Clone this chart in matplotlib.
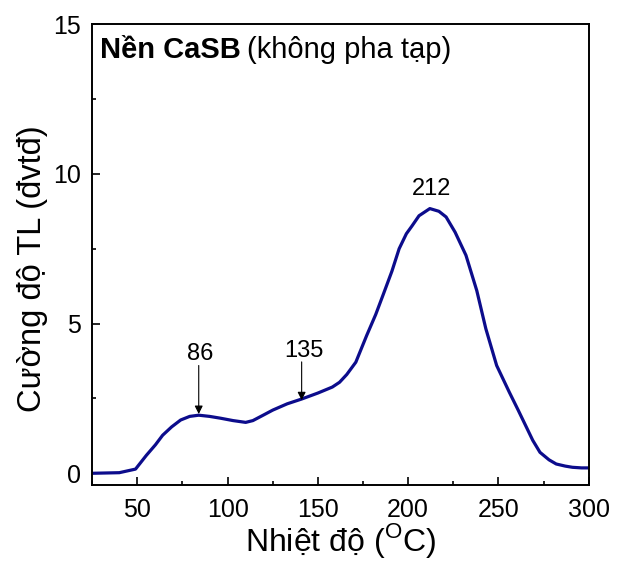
import matplotlib
import matplotlib.pyplot as plt
from matplotlib.ticker import MultipleLocator

matplotlib.use("Agg")

plt.rcParams["font.family"] = ["Liberation Sans", "DejaVu Sans"]
plt.rcParams["mathtext.fontset"] = "custom"
plt.rcParams["mathtext.rm"] = "Liberation Sans"

# Duong TL cua nen CaSB (khong pha tap)
temp = [25, 40, 49, 55, 60, 64, 69, 74, 79, 84, 90, 96, 103, 110, 114, 120, 125,
        133, 141, 150, 158, 162, 166, 171, 177, 182, 186, 191, 195, 199, 202,
        206, 212, 217, 221, 226, 232, 238, 243, 249, 256, 261, 265, 269, 273,
        278, 282, 287, 291, 296, 300]
intensity = [0.0, 0.02, 0.14, 0.6, 0.95, 1.27, 1.55, 1.78, 1.9, 1.94, 1.9, 1.84,
             1.76, 1.7, 1.76, 1.95, 2.11, 2.32, 2.48, 2.68, 2.88, 3.04, 3.3,
             3.71, 4.6, 5.3, 5.94, 6.75, 7.5, 8.0, 8.25, 8.6, 8.84, 8.75,
             8.56, 8.05, 7.28, 6.1, 4.83, 3.6, 2.71, 2.1, 1.6, 1.1, 0.7, 0.45,
             0.31, 0.24, 0.2, 0.18, 0.18]

peak_labels = ["86", "135", "212"]
label_x = [84.7, 142.3, 212.8]
label_y = [3.77, 3.88, 9.3]
arrow_x = [84, 141]
arrow_top = [3.6, 3.72]
arrow_tip = [1.98, 2.44]

fig = plt.figure(figsize=(6.23, 5.61), dpi=100)
ax = fig.add_axes([0.148, 0.135, 0.797, 0.822])

ax.plot(temp, intensity, color="#0c0c8c", lw=2.3)

# Mui ten danh dau cac dinh
for xa, yt, yb in zip(arrow_x, arrow_top, arrow_tip):
    ax.annotate("", xy=(xa, yb), xytext=(xa, yt),
                arrowprops=dict(arrowstyle="-|>", color="black", lw=0.8,
                                mutation_scale=12, shrinkA=0, shrinkB=0))
for lab, xl, yl in zip(peak_labels, label_x, label_y):
    ax.text(xl, yl, lab, ha="center", va="baseline", fontsize=17)

t1 = ax.text(29.4, 13.88, "Nền CaSB", fontsize=21, fontweight="bold",
             ha="left", va="baseline")
ax.annotate("(không pha tạp)", xy=(1, 0), xycoords=t1, xytext=(4, 0),
            textcoords="offset points", fontsize=21, ha="left", va="bottom")

ax.set_xlim(25, 300)
ax.set_ylim(-0.4, 15)
ax.xaxis.set_major_locator(MultipleLocator(50))
ax.xaxis.set_minor_locator(MultipleLocator(25))
ax.yaxis.set_major_locator(MultipleLocator(5))
ax.yaxis.set_minor_locator(MultipleLocator(2.5))
ax.tick_params(which="both", direction="in", width=1.2, labelsize=18)
ax.tick_params(which="major", length=6)
ax.tick_params(which="minor", length=3)
ax.tick_params(axis="x", pad=9.5)
ax.tick_params(axis="y", pad=8)
for sp in ax.spines.values():
    sp.set_linewidth(1.4)

ax.set_xlabel(r"Nhiệt độ ($^{\mathrm{O}}$C)", fontsize=23, labelpad=-1)
ax.set_ylabel("Cường độ TL (đvtđ)", fontsize=23.5)
ax.yaxis.set_label_coords(-0.09, 0.47)

fig.savefig("out.png", dpi=100)
plt.close(fig)
